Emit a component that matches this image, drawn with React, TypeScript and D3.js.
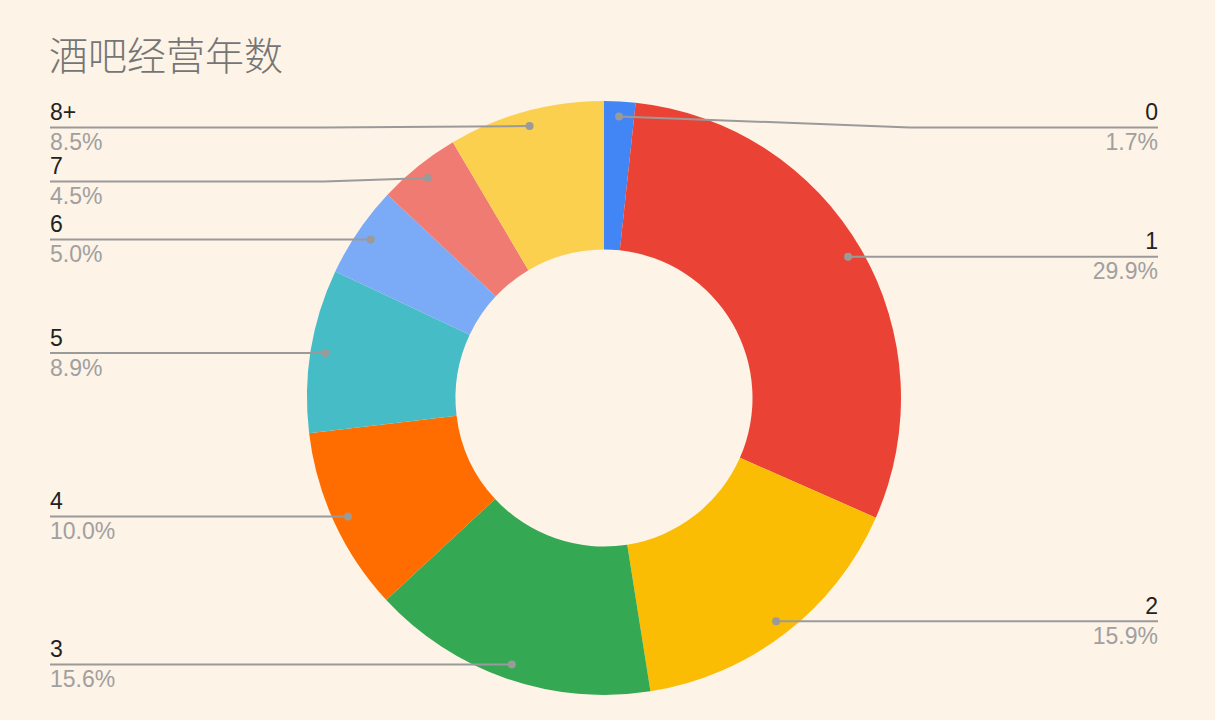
import React from "react";
import * as d3 from "d3";

const categories = ["0", "1", "2", "3", "4", "5", "6", "7", "8+"];
const percents = [1.7, 29.9, 15.9, 15.6, 10.0, 8.9, 5.0, 4.5, 8.5];
const colors = ["#4285f4", "#ea4335", "#fbbc04", "#34a853", "#ff6d01", "#46bdc6", "#7baaf7", "#f07b72", "#fcd04f"];
const title = "酒吧经营年数";

const W = 1215;
const H = 720;
const cx = 604;
const cy = 398;
const R = 297;
const r0 = 148.5;
const dotR = 282;
const leftX = 50;
const rightX = 1158;
const minLabelY = 127.5;
const minGap = 54;
const bg = "#fdf3e7";

export default function App() {
  const data = categories.map((c, i) => ({ name: c, value: percents[i], color: colors[i] }));
  const pie = d3.pie<any>().sort(null).value((d: any) => d.value);
  const arcs = pie(data);
  const arcGen = d3.arc<any>().innerRadius(r0).outerRadius(R);

  const items = arcs.map((a) => {
    const mid = (a.startAngle + a.endAngle) / 2;
    const dx = cx + dotR * Math.sin(mid);
    const dy = cy - dotR * Math.cos(mid);
    const side = Math.sin(mid) >= 0 ? "right" : "left";
    return { a, mid, dx, dy, side, ly: dy };
  });

  (["left", "right"] as const).forEach((s) => {
    const list = items.filter((it) => it.side === s).sort((p, q) => p.dy - q.dy);
    let prev = -Infinity;
    list.forEach((it) => {
      const y = Math.max(it.dy, minLabelY, prev + minGap);
      it.ly = y;
      prev = y;
    });
  });

  const font = "Arial, 'Liberation Sans', Roboto, sans-serif";

  return (
    <svg width={W} height={H} style={{ position: "absolute", left: 0, top: 0, background: bg }}>
      <rect x={0} y={0} width={W} height={H} fill={bg} />
      <text x={49} y={70} fontSize={39} fill="#757575" fontFamily="'Noto Sans CJK SC', sans-serif" fontWeight={300}>
        {title}
      </text>
      <g>
        {arcs.map((a, i) => (
          <path key={i} d={arcGen(a) as string} transform={`translate(${cx},${cy})`} fill={a.data.color} />
        ))}
      </g>
      <g>
        {items.map((it, i) => {
          const isLeft = it.side === "left";
          const elbowX = isLeft ? Math.min(it.dx, cx - 280) : Math.max(it.dx, cx + 306);
          const edgeX = isLeft ? leftX : rightX;
          const pts: [number, number][] = [
            [it.dx, it.dy],
            [elbowX, it.ly],
            [edgeX, it.ly],
          ];
          const line = d3.line()(pts) as string;
          const anchor = isLeft ? "start" : "end";
          return (
            <g key={i}>
              <path d={line} fill="none" stroke="#9a9a9a" strokeWidth={2} />
              <circle cx={it.dx} cy={it.dy} r={4} fill="#9a9a9a" />
              <text x={edgeX} y={it.ly - 7.5} fontSize={23} fill="#222" textAnchor={anchor} fontFamily={font}>
                {it.a.data.name}
              </text>
              <text x={edgeX} y={it.ly + 22.5} fontSize={23} fill="#a0a0a0" textAnchor={anchor} fontFamily={font}>
                {d3.format(".1f")(it.a.data.value) + "%"}
              </text>
            </g>
          );
        })}
      </g>
    </svg>
  );
}
